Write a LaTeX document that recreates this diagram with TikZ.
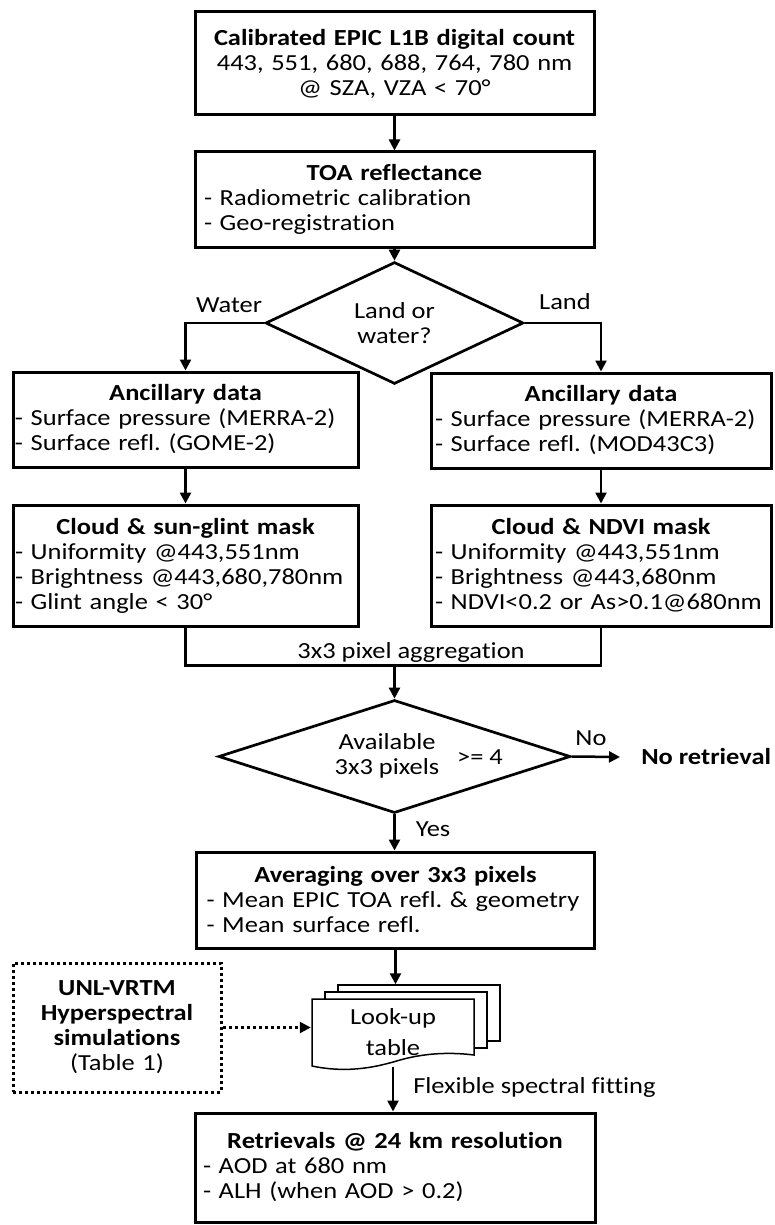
\documentclass[tikz,border=0pt]{standalone}
\usepackage{fontspec}
\setmainfont{Carlito}[FakeStretch=1.15, Ligatures=CommonOff]
\usetikzlibrary{shapes.geometric,arrows.meta}
\newcommand{\ttl}[1]{\makebox[\hsize]{\bfseries #1}}
\frenchspacing
\begin{document}
\begin{tikzpicture}[x=1pt, y=-1pt, every node/.style={inner sep=0pt, font=\fontsize{23}{25}\selectfont}, line width=2.5pt, ->, >={Triangle[length=11pt,width=11pt]}]

\tikzstyle{box}=[draw, line width=3pt, align=left]
\tikzstyle{decision}=[draw, diamond, line width=2.7pt, align=center]
\tikzstyle{page}=[draw, fill=white, line width=1.5pt, -]
\tikzstyle{dots}=[dash pattern=on 3pt off 3pt]

\useasboundingbox (0,0) rectangle (775,1225);

\node (b1) [box, align=center, minimum width=399, minimum height=103, text width=395] at (394.5,63.5)
   {\textbf{Calibrated EPIC L1B digital count}\\443, 551, 680, 688, 764, 780 nm\\@ SZA, VZA < 70°};
\node (b2) [box, minimum width=399, minimum height=95, text width=381] at (394.5,199.5)
   {\ttl{TOA reflectance}\\- Radiometric calibration\\- Geo-registration};
\node (d1) [decision, minimum width=258, minimum height=98] at (394.5,323) {Land or\\water?};

\node (anc1) [box, minimum width=345, minimum height=95, text width=341] at (185.5,419.5)
   {\ttl{Ancillary data}\\- Surface pressure (MERRA-2)\\- Surface refl. (GOME-2)};
\node (anc2) [box, minimum width=340, minimum height=95, text width=332] at (601,420.5)
   {\ttl{Ancillary data}\\- Surface pressure (MERRA-2)\\- Surface refl. (MOD43C3)};
\node (cld1) [box, minimum width=345, minimum height=121, text width=341] at (185.5,565.5)
   {\ttl{Cloud \& sun-glint mask}\\- Uniformity @443,551nm\\- Brightness @443,680,780nm\\- Glint angle < 30°};
\node (cld2) [box, minimum width=340, minimum height=121, text width=332] at (601,565.5)
   {\ttl{Cloud \& NDVI mask}\\- Uniformity @443,551nm\\- Brightness @443,680nm\\- NDVI<0.2 or As>0.1@680nm};

\node (d2) [decision, minimum width=352, minimum height=113] at (394.5,756.5) {};
\node (avail) [align=center] at (387,756) {Available\\3x3 pixels};
\node (ge) at (480,757) {>= 4};
\node (noret) [anchor=west] at (640,757) {\textbf{No retrieval}};

\node (avg) [box, minimum width=398, minimum height=96, text width=378] at (395.5,900)
   {\ttl{Averaging over 3x3 pixels}\\- Mean EPIC TOA refl. \& geometry\\- Mean surface refl.};

\node (sim) [box, dots, align=center, minimum width=208, minimum height=129, text width=200] at (117,1027.5)
   {\textbf{UNL-VRTM}\\\textbf{Hyperspectral}\\\textbf{simulations}\\(Table 1)};

\node (lut3) [page, minimum width=162, minimum height=56] at (419,1013) {};
\node (lut2) [page, minimum width=162, minimum height=56] at (406,1020) {};
\draw[page] (312,999) -- (474,999) -- (474,1055) .. controls (450,1052) and (425,1053) .. (400,1060)
   .. controls (380,1066) and (350,1074) .. (312,1066) -- cycle;
\node (lut1) [align=center, minimum width=162, minimum height=67, font=\fontsize{23}{31}\selectfont] at (393,1032.5) {Look-up\\table};

\node (ret) [box, minimum width=400, minimum height=109, text width=384] at (395,1167.5)
   {\ttl{Retrievals @ 24 km resolution}\\- AOD at 680 nm\\- ALH (when AOD > 0.2)};

\node (water) at (229,305) {Water};
\node (land) at (565,302) {Land};
\node (no) at (591,738) {No};
\node (yes) at (433,829) {Yes};
\node (fit) [anchor=west] at (412,1087) {Flexible spectral fitting};

\draw (b1) -- (b2);
\draw (b2) -- (d1);
\draw (d1.west) -| (anc1.north);
\draw (d1.east) -| (anc2.north);
\draw (anc1) -- (cld1);
\draw (anc2) -- (cld2);
\draw[-] (cld1.south) -- ++(0,38) -| (cld2.south);
\coordinate (agg) at (394.5,664);
\node (aggtxt) [anchor=south] at (411,664) {3x3 pixel aggregation};
\draw (agg) -- (d2.north);
\draw (d2.east) -- ([xshift=-20pt]noret.west);
\draw (d2.south) -- (d2.south |- avg.north);
\draw (avg.south) -- (avg.south |- lut3.north);
\draw[dots] (sim.east) -- (sim.east -| lut1.west);
\draw (lut1.south) -- (lut1.south |- ret.north);
\end{tikzpicture}
\end{document}
